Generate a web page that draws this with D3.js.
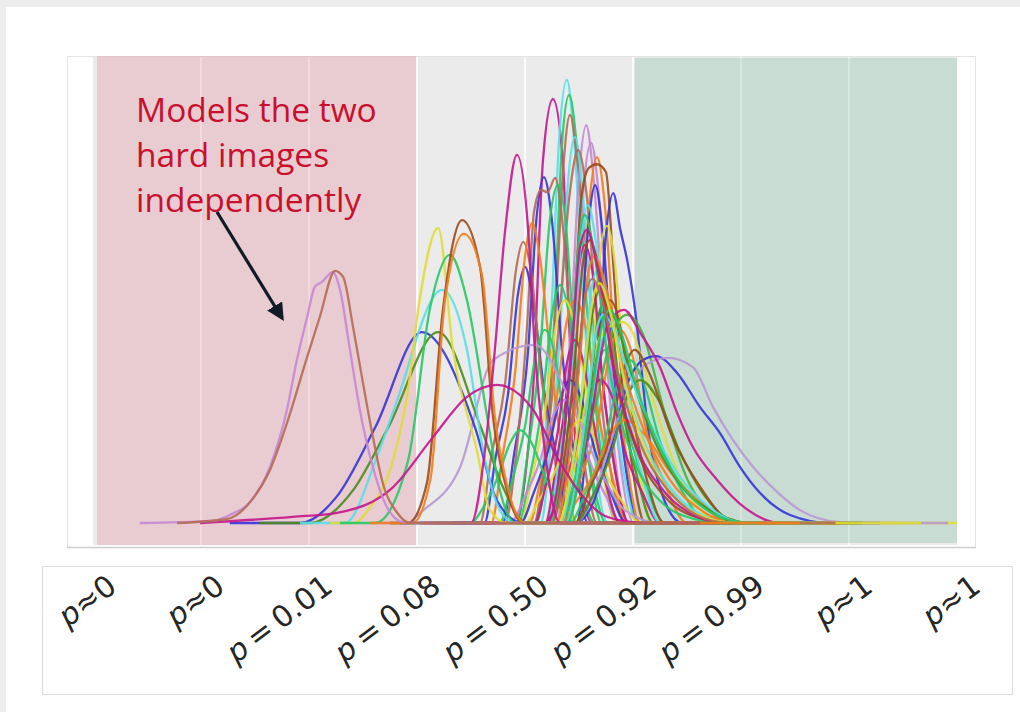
<!DOCTYPE html>
<html>
<head>
<meta charset="utf-8">
<script src="https://cdn.jsdelivr.net/npm/d3@7"></script>
<style>
  html, body { margin: 0; padding: 0; background: #efefef; }
  svg { display: block; }
</style>
</head>
<body>
<svg id="chart" width="1020" height="712"></svg>
<script>
// x is the model logit of the answer, y the kernel density of it
const tickLogits = [-9.6, -7.2, -4.8, -2.4, 0, 2.4, 4.8, 7.2, 9.6];
const tickLabels = ["p≈0", "p≈0", "p\u2009=\u20090.01", "p\u2009=\u20090.08", "p\u2009=\u20090.50", "p\u2009=\u20090.92", "p\u2009=\u20090.99", "p≈1", "p≈1"];
const hardBand = [-9.51, -2.42];
const easyBand = [2.44, 9.6];
const noteLines = ["Models the two", "hard images", "independently"];

// the two curves the note points at
const hardImageCurves = [
  [[-8.56,0],[-6.93,0.005],[-6.56,0.018],[-6.04,0.056],[-5.67,0.126],[-5.29,0.255],[-5.07,0.367],[-4.84,0.464],[-4.67,0.532],[-4.51,0.543],[-4.27,0.565],[-4.11,0.525],[-3.89,0.39],[-3.67,0.255],[-3.38,0.126],[-3.07,0.036],[-2.71,0.002],[-2.18,0],[2.11,0]],
  [[-7.73,0],[-6.62,0.009],[-6.04,0.056],[-5.67,0.119],[-5.29,0.225],[-4.84,0.374],[-4.56,0.464],[-4.22,0.568],[-4.04,0.554],[-3.82,0.441],[-3.6,0.315],[-3.38,0.194],[-3.16,0.09],[-2.84,0.023],[-2.56,0],[3.89,0]]
];
const hardColors = ["lavender", "tan"];

const leftCurves = [
  [[-6.56,0],[-5.0,0],[-4.18,0.06],[-3.33,0.215],[-2.29,0.43],[-1.11,0.215],[-0.62,0.05],[-0.05,0],[2.11,0]],
  [[-5.89,0],[-4.78,0],[-3.82,0.074],[-3.04,0.215],[-1.93,0.43],[-0.98,0.215],[-0.49,0.081],[0.04,0],[3.44,0]],
  [[-5.0,0],[-4.0,0],[-3.29,0.149],[-2.89,0.262],[-1.84,0.525],[-1.29,0.39],[-0.93,0.164],[-0.56,0.029],[-0.22,0],[2.78,0]],
  [[-4.33,0],[-3.8,0],[-3.44,0.036],[-2.93,0.142],[-2.6,0.3],[-2.36,0.49],[-1.93,0.664],[-1.6,0.39],[-1.07,0.164],[-0.78,0.029],[-0.4,0],[3.89,0]],
  [[-4.11,0],[-3.33,0],[-2.6,0.14],[-2.11,0.484],[-1.67,0.604],[-1.29,0.502],[-0.84,0.239],[-0.56,0.074],[-0.2,0],[5.22,0]],
  [[-3.0,0],[-2.6,0],[-2.18,0.09],[-1.82,0.484],[-1.4,0.682],[-1.0,0.577],[-0.71,0.239],[-0.4,0.074],[-0.05,0],[4.33,0]],
  [[-3.44,0],[-2.5,0],[-2.1,0.1],[-1.78,0.5],[-1.36,0.651],[-0.96,0.56],[-0.67,0.24],[-0.36,0.07],[0,0],[6.11,0]],
  [[-7.22,0],[-5.16,0.014],[-4.18,0.023],[-2.93,0.081],[-2.04,0.194],[-1.29,0.284],[-0.62,0.311],[0.18,0.255],[0.71,0.149],[1.29,0.059],[1.82,0.014],[2.56,0]],
  [[-2.33,0],[-1.2,0],[-0.89,0.164],[-0.67,0.39],[-0.44,0.66],[-0.18,0.829],[0.07,0.66],[0.22,0.39],[0.44,0.164],[0.78,0],[3.89,0]]
];
const leftColors = ["blue", "olive", "cyan", "yellow", "green", "brown", "orange", "magenta", "magenta"];

const clusterCurves = [
  [[-1.67,0],[-0.2,0],[0.0,0.1],[0.18,0.3],[0.4,0.818],[0.62,0.955],[0.84,0.818],[0.98,0.45],[1.15,0.15],[1.5,0],[4.78,0]],
  [[-1.22,0],[0.2,0],[0.42,0.15],[0.6,0.5],[0.75,0.85],[0.93,0.998],[1.1,0.85],[1.3,0.5],[1.55,0.15],[1.85,0],[5.22,0]],
  [[-1.0,0],[0.25,0],[0.48,0.15],[0.66,0.48],[0.82,0.85],[0.98,0.964],[1.15,0.85],[1.38,0.48],[1.7,0.15],[2.05,0],[5.67,0]],
  [[-1.44,0],[0.2,0],[0.45,0.15],[0.67,0.46],[0.85,0.8],[1.0,0.919],[1.18,0.8],[1.5,0.46],[1.85,0.15],[2.25,0],[4.78,0]],
  [[-1.0,0],[0.6,0],[0.8,0.15],[1.02,0.446],[1.2,0.78],[1.36,0.896],[1.52,0.78],[1.76,0.446],[2.0,0.15],[2.33,0],[6.11,0]],
  [[-0.56,0],[0.7,0],[0.9,0.15],[1.13,0.43],[1.3,0.75],[1.47,0.856],[1.63,0.75],[1.85,0.43],[2.1,0.15],[2.42,0],[5.67,0]],
  [[-0.78,0],[0.35,0],[0.55,0.15],[0.78,0.435],[0.95,0.76],[1.11,0.869],[1.27,0.76],[1.49,0.435],[1.75,0.15],[2.1,0],[4.33,0]],
  [[-1.22,0],[0.2,0],[0.45,0.15],[0.73,0.42],[0.98,0.73],[1.18,0.84],[1.38,0.73],[1.62,0.42],[1.95,0.15],[2.3,0],[5.22,0]],
  [[-0.56,0],[0.75,0],[0.95,0.15],[1.24,0.412],[1.43,0.72],[1.6,0.824],[1.77,0.72],[1.98,0.412],[2.25,0.15],[2.56,0],[6.56,0]],
  [[-0.78,0],[0.5,0],[0.72,0.15],[1.05,0.405],[1.25,0.73],[1.42,0.8],[1.6,0.808],[1.8,0.79],[1.95,0.6],[2.1,0.38],[2.35,0.15],[2.67,0],[6.11,0]],
  [[-0.33,0],[0.75,0],[0.95,0.15],[1.22,0.38],[1.4,0.66],[1.56,0.761],[1.72,0.66],[1.93,0.38],[2.2,0.15],[2.5,0],[3.89,0]],
  [[-0.11,0],[1.15,0],[1.35,0.15],[1.62,0.372],[1.8,0.65],[1.96,0.743],[2.12,0.66],[2.27,0.592],[2.44,0.484],[2.75,0.2],[3.1,0.05],[3.5,0],[6.56,0]],
  [[-1.67,0],[-0.5,0],[-0.25,0.15],[0.07,0.39],[0.25,0.68],[0.42,0.779],[0.6,0.68],[0.82,0.39],[1.1,0.15],[1.4,0],[2.56,0]],
  [[-2.11,0],[-0.45,0],[-0.2,0.15],[0.05,0.45],[0.2,0.7],[0.36,0.75],[0.5,0.745],[0.67,0.777],[0.85,0.66],[1.05,0.38],[1.3,0.15],[1.6,0],[3.89,0]],
  [[-1.22,0],[-0.2,0],[0.05,0.15],[0.33,0.38],[0.55,0.68],[0.73,0.761],[0.9,0.68],[1.11,0.38],[1.4,0.15],[1.7,0],[4.78,0]],
  [[-2.78,0],[-0.9,0],[-0.65,0.15],[-0.38,0.288],[-0.15,0.52],[0.0,0.577],[0.18,0.5],[0.44,0.288],[0.7,0.15],[1.0,0],[3.44,0]],
  [[-2.33,0],[-1.0,0],[-0.75,0.15],[-0.44,0.316],[-0.2,0.57],[-0.04,0.633],[0.13,0.57],[0.38,0.316],[0.65,0.15],[0.95,0],[3.0,0]],
  [[-2.11,0],[-0.75,0],[-0.5,0.15],[-0.22,0.338],[0.0,0.6],[0.16,0.676],[0.33,0.6],[0.6,0.338],[0.85,0.15],[1.15,0],[3.89,0]],
  [[-0.11,0],[1.0,0],[1.2,0.15],[1.48,0.335],[1.66,0.6],[1.82,0.669],[1.98,0.6],[2.22,0.335],[2.5,0.15],[2.8,0],[9.6,0]],
  [[-1.5,0],[-0.15,0],[0.1,0.1],[0.38,0.268],[0.6,0.47],[0.78,0.536],[0.98,0.47],[1.22,0.268],[1.5,0.1],[1.8,0],[5.0,0]],
  [[-1.0,0],[0.1,0],[0.35,0.1],[0.67,0.251],[0.9,0.44],[1.11,0.502],[1.35,0.44],[1.62,0.251],[1.95,0.1],[2.25,0],[6.8,0]],
  [[-0.5,0],[0.75,0],[1.0,0.1],[1.27,0.262],[1.48,0.46],[1.67,0.525],[1.9,0.46],[2.16,0.262],[2.5,0.1],[2.85,0],[5.6,0]],
  [[-1.2,0],[0.45,0],[0.68,0.12],[0.96,0.313],[1.16,0.55],[1.33,0.626],[1.52,0.55],[1.73,0.313],[2.0,0.12],[2.3,0],[4.9,0]],
  [[-1.3,0],[-0.1,0],[0.15,0.1],[0.44,0.251],[0.68,0.44],[0.89,0.502],[1.12,0.44],[1.44,0.251],[1.75,0.1],[2.05,0],[5.4,0]],
  [[-0.9,0],[0.5,0],[0.75,0.14],[1.04,0.358],[1.24,0.63],[1.4,0.716],[1.58,0.63],[1.85,0.358],[2.15,0.14],[2.5,0],[5.8,0]],
  [[-0.2,0],[0.78,0],[1.05,0.08],[1.33,0.195],[1.58,0.34],[1.78,0.39],[2.02,0.34],[2.33,0.195],[2.7,0.08],[3.1,0],[6.3,0]],
  [[0.0,0],[0.9,0],[1.2,0.09],[1.6,0.218],[1.88,0.38],[2.11,0.435],[2.38,0.38],[2.67,0.218],[3.1,0.09],[3.6,0],[6.9,0]],
  [[-0.4,0],[0.9,0],[1.15,0.1],[1.44,0.251],[1.68,0.44],[1.89,0.502],[2.12,0.44],[2.38,0.251],[2.7,0.1],[3.1,0],[6.2,0]],
  [[-1.6,0],[-0.1,0],[0.2,0.07],[0.51,0.161],[0.78,0.28],[1.0,0.322],[1.25,0.28],[1.56,0.161],[1.9,0.07],[2.25,0],[4.2,0]],
  [[-0.8,0],[0.44,0],[0.8,0.07],[1.11,0.161],[1.4,0.28],[1.67,0.322],[1.95,0.28],[2.22,0.161],[2.6,0.07],[3.0,0],[5.3,0]],
  [[-2.0,0],[-0.56,0],[-0.3,0.09],[0.0,0.218],[0.24,0.38],[0.44,0.435],[0.66,0.38],[0.89,0.218],[1.2,0.09],[1.56,0],[4.6,0]],
  [[-1.8,0],[-0.33,0],[0.0,0.06],[0.33,0.139],[0.62,0.24],[0.89,0.277],[1.15,0.24],[1.44,0.139],[1.8,0.06],[2.11,0],[6.6,0]],
  [[-0.5,0],[0.89,0],[1.15,0.09],[1.44,0.229],[1.68,0.4],[1.89,0.457],[2.1,0.4],[2.33,0.229],[2.65,0.09],[3.0,0],[6.0,0]],
  [[-1.0,0],[0.0,0],[0.3,0.05],[0.67,0.116],[0.98,0.2],[1.22,0.232],[1.5,0.2],[1.78,0.116],[2.15,0.05],[2.56,0],[8.3,0]],
  [[-1.4,0],[0.22,0],[0.45,0.08],[0.73,0.206],[0.93,0.36],[1.11,0.412],[1.3,0.36],[1.56,0.206],[1.82,0.08],[2.11,0],[5.1,0]],
  [[-3.0,0],[-1.22,0],[-0.9,0.04],[-0.6,0.105],[-0.33,0.18],[-0.11,0.209],[0.15,0.18],[0.44,0.105],[0.75,0.04],[1.11,0],[3.2,0]]
];
const clusterColors = ["magenta", "cyan", "green", "tan", "lavender", "lavender", "cyan", "tan", "orange", "brown",
  "blue", "blue", "blue", "tan", "green", "blue", "tan", "orange", "yellow", "green",
  "orange", "olive", "magenta", "yellow", "cyan", "green", "orange", "brown", "blue", "magenta",
  "green", "lavender", "cyan", "yellow", "magenta", "green"];

// curves with long right tails into the green band
const rightCurves = [
  [[-0.56,0],[0.7,0],[1.05,0.1],[1.4,0.3],[1.67,0.419],[2.16,0.453],[2.4,0.428],[2.7,0.33],[3.0,0.226],[3.5,0.09],[4.0,0.02],[4.5,0],[7.44,0]],
  [[-0.33,0],[0.8,0],[1.15,0.1],[1.6,0.28],[1.95,0.43],[2.27,0.469],[2.6,0.43],[3.1,0.25],[3.6,0.1],[4.2,0.02],[4.7,0],[7.0,0]],
  [[0.11,0],[1.11,0],[1.44,0.03],[1.89,0.164],[2.3,0.32],[2.62,0.367],[2.91,0.376],[3.38,0.338],[3.89,0.261],[4.33,0.203],[4.78,0.126],[5.22,0.068],[5.89,0.018],[6.78,0],[7.89,0]],
  [[0.5,0],[1.11,0],[1.44,0.041],[1.78,0.142],[2.22,0.277],[2.67,0.356],[3.18,0.372],[3.73,0.351],[4.18,0.261],[4.62,0.187],[5.07,0.126],[5.56,0.074],[6.11,0.029],[7.0,0.002],[7.6,0],[9.4,0]],
  [[-3.22,0],[-2.6,0],[-2.33,0.023],[-1.44,0.126],[-0.71,0.367],[0.22,0.401],[1.0,0.277],[1.67,0.119],[2.22,0.029],[3.0,0],[4.5,0]],
  [[-0.56,0],[0.89,0],[1.2,0.1],[1.49,0.251],[1.85,0.45],[2.2,0.48],[2.56,0.428],[3.0,0.351],[3.38,0.248],[3.73,0.171],[4.27,0.097],[4.89,0.034],[5.67,0],[6.5,0]],
  [[0.2,0],[1.0,0],[1.35,0.07],[1.78,0.184],[2.07,0.32],[2.33,0.367],[2.62,0.32],[3.0,0.184],[3.5,0.07],[4.11,0],[5.8,0]],
  [[0.3,0],[1.11,0],[1.5,0.06],[1.93,0.161],[2.25,0.28],[2.56,0.322],[2.95,0.28],[3.44,0.161],[4.0,0.06],[4.78,0],[6.4,0]],
  [[0.1,0],[0.78,0],[1.15,0.05],[1.56,0.116],[1.9,0.2],[2.22,0.232],[2.65,0.2],[3.22,0.116],[3.85,0.05],[4.56,0],[7.2,0]],
  [[0.2,0],[1.11,0],[1.45,0.08],[1.89,0.195],[2.18,0.34],[2.44,0.39],[2.75,0.34],[3.27,0.195],[3.9,0.08],[4.67,0],[6.8,0]],
  [[-0.3,0],[0.9,0],[1.2,0.12],[1.45,0.3],[1.62,0.46],[1.78,0.5],[2.0,0.46],[2.4,0.32],[2.9,0.18],[3.5,0.08],[4.3,0.02],[5.0,0],[7.5,0]],
  [[-0.7,0],[0.8,0],[1.05,0.12],[1.3,0.33],[1.47,0.52],[1.62,0.57],[1.85,0.5],[2.2,0.33],[2.7,0.17],[3.3,0.07],[4.0,0.015],[4.7,0],[6.7,0]],
  [[-1.1,0],[0.6,0],[0.85,0.13],[1.1,0.35],[1.28,0.58],[1.44,0.637],[1.65,0.57],[2.0,0.34],[2.5,0.16],[3.1,0.06],[3.9,0.01],[4.5,0],[6.0,0]],
  [[-0.6,0],[0.55,0],[0.8,0.13],[1.03,0.38],[1.19,0.63],[1.33,0.694],[1.52,0.62],[1.85,0.36],[2.35,0.16],[3.0,0.05],[3.8,0.008],[4.4,0],[5.9,0]],
  [[-0.8,0],[0.7,0],[0.95,0.12],[1.2,0.35],[1.4,0.56],[1.55,0.6],[1.75,0.55],[2.1,0.38],[2.6,0.22],[3.2,0.1],[3.9,0.03],[4.6,0],[7.0,0]],
  [[-0.4,0],[0.9,0],[1.15,0.1],[1.4,0.28],[1.6,0.44],[1.75,0.47],[1.95,0.44],[2.3,0.34],[2.8,0.22],[3.4,0.11],[4.1,0.035],[4.9,0],[6.5,0]],
  [[-0.9,0],[0.5,0],[0.8,0.14],[1.05,0.4],[1.22,0.62],[1.38,0.66],[1.6,0.58],[1.95,0.36],[2.45,0.18],[3.1,0.07],[3.8,0.015],[4.4,0],[5.5,0]],
  [[-0.2,0],[0.95,0],[1.2,0.1],[1.5,0.3],[1.72,0.45],[1.88,0.48],[2.1,0.44],[2.5,0.3],[3.0,0.17],[3.6,0.07],[4.3,0.015],[5.0,0],[6.4,0]],
  [[-0.6,0],[0.75,0],[1.0,0.1],[1.3,0.32],[1.5,0.5],[1.66,0.54],[1.88,0.48],[2.25,0.3],[2.75,0.15],[3.4,0.05],[4.1,0.01],[4.7,0],[8.8,0]],
  [[-0.9,0],[0.6,0],[0.85,0.1],[1.12,0.3],[1.32,0.5],[1.5,0.55],[1.72,0.5],[2.1,0.32],[2.6,0.17],[3.3,0.06],[4.0,0.01],[4.6,0],[6.9,0]]
];
const rightColors = ["yellow", "leaf", "blue", "lilac", "lilac", "magenta", "green", "olive", "orange", "brown",
  "olive", "cyan", "brown", "green", "orange", "cyan", "magenta", "green", "yellow", "tan"];

const palette = {
  magenta: "#c5168c", cyan: "#58dfe8", green: "#27c866", brown: "#9a4a1c", tan: "#b46c55",
  orange: "#f47d1d", blue: "#3434d8", lavender: "#c587d4", lilac: "#b899d2", yellow: "#e0dd33",
  olive: "#4a8b1f", leaf: "#44b33c"
};

const svg = d3.select("#chart");
const W = 1020, H = 712;
const panel = { left: 93, right: 957, top: 57, bottom: 545 };

const x = d3.scaleLinear().domain([-9.6, 9.6]).range([panel.left, panel.right]);
const y = d3.scaleLinear().domain([0, 1]).range([523, 79]);

// slide background
svg.append("rect").attr("width", W).attr("height", H).attr("fill", "#ededed");
svg.append("rect").attr("x", 6).attr("y", 7).attr("width", W - 6).attr("height", H - 7).attr("fill", "#ffffff");

// chart frame
svg.append("rect")
  .attr("x", 67.5).attr("y", 56.5).attr("width", 908).attr("height", 491)
  .attr("fill", "#fff").attr("stroke", "#e4e4e4");
svg.append("line")
  .attr("x1", 67).attr("x2", 976).attr("y1", 547.5).attr("y2", 547.5)
  .attr("stroke", "#cfcfcf").attr("stroke-width", 1.5);

svg.append("rect")
  .attr("x", panel.left).attr("y", panel.top)
  .attr("width", panel.right - panel.left).attr("height", panel.bottom - panel.top)
  .attr("fill", "#ebebeb");

svg.append("g")
  .selectAll("line")
  .data(tickLogits.slice(1, -1))
  .join("line")
  .attr("x1", d => x(d)).attr("x2", d => x(d))
  .attr("y1", panel.top).attr("y2", panel.bottom)
  .attr("stroke", "#fff").attr("stroke-width", 1.6);

svg.append("rect")
  .attr("x", x(hardBand[0])).attr("width", x(hardBand[1]) - x(hardBand[0]))
  .attr("y", panel.top - 1).attr("height", panel.bottom - panel.top + 1)
  .attr("fill", "rgb(220,80,108)").attr("fill-opacity", 0.2);
svg.append("rect")
  .attr("x", x(easyBand[0])).attr("width", x(easyBand[1]) - x(easyBand[0]))
  .attr("y", panel.top + 1).attr("height", panel.bottom - panel.top - 3)
  .attr("fill", "rgb(66,160,114)").attr("fill-opacity", 0.2);

svg.append("clipPath").attr("id", "clip")
  .append("rect")
  .attr("x", panel.left).attr("y", panel.top)
  .attr("width", panel.right - panel.left).attr("height", panel.bottom - panel.top);

const line = d3.line()
  .x(d => x(d[0]))
  .y(d => y(d[1]))
  .curve(d3.curveMonotoneX);

const allCurves = [
  ...clusterCurves.map((c, i) => ({ pts: c, color: clusterColors[i] })),
  ...rightCurves.map((c, i) => ({ pts: c, color: rightColors[i] })),
  ...leftCurves.map((c, i) => ({ pts: c, color: leftColors[i] })),
  ...hardImageCurves.map((c, i) => ({ pts: c, color: hardColors[i] }))
];

svg.append("g")
  .attr("clip-path", "url(#clip)")
  .selectAll("path")
  .data(allCurves)
  .join("path")
  .attr("d", d => line(d.pts))
  .attr("fill", "none")
  .attr("stroke", d => palette[d.color])
  .attr("stroke-width", 2.3)
  .attr("stroke-opacity", 0.9)
  .attr("stroke-linejoin", "round");

// note + arrow
svg.append("g")
  .selectAll("text")
  .data(noteLines)
  .join("text")
  .attr("x", 136)
  .attr("y", (d, i) => 122 + i * 45)
  .attr("font-family", "'Open Sans', 'Noto Sans', sans-serif")
  .attr("font-size", 33.5)
  .attr("fill", "#c8102e")
  .text(d => d);

svg.append("defs").append("marker")
  .attr("id", "head")
  .attr("viewBox", "0 0 10 10")
  .attr("refX", 8).attr("refY", 5)
  .attr("markerWidth", 5.5).attr("markerHeight", 5.5)
  .attr("orient", "auto")
  .append("path")
  .attr("d", "M0,0L10,5L0,10Z")
  .attr("fill", "#111b27");

svg.append("line")
  .attr("x1", 217).attr("y1", 212)
  .attr("x2", 282).attr("y2", 318)
  .attr("stroke", "#111b27").attr("stroke-width", 3.2)
  .attr("marker-end", "url(#head)");

// tick label strip below the chart
svg.append("rect")
  .attr("x", 42.5).attr("y", 566.5).attr("width", 970).attr("height", 128)
  .attr("fill", "#fff").attr("stroke", "#dcdcdc");

const axis = d3.axisBottom(x)
  .tickValues(tickLogits)
  .tickSize(0)
  .tickFormat((d, i) => tickLabels[i]);

const axisG = svg.append("g")
  .attr("transform", "translate(0,594)")
  .call(axis);
axisG.select(".domain").remove();
axisG.selectAll("text")
  .attr("y", 0).attr("dy", 0)
  .attr("text-anchor", "end")
  .attr("transform", "translate(25,-4) rotate(-37)")
  .attr("font-family", "'DejaVu Sans', sans-serif")
  .attr("font-size", 30)
  .attr("fill", "#262626")
  .each(function (d, i) {
    const t = d3.select(this);
    const label = tickLabels[i];
    t.text(null);
    t.append("tspan").attr("font-style", "italic").text(label[0]);
    t.append("tspan").text(label.slice(1));
  });
</script>
</body>
</html>
